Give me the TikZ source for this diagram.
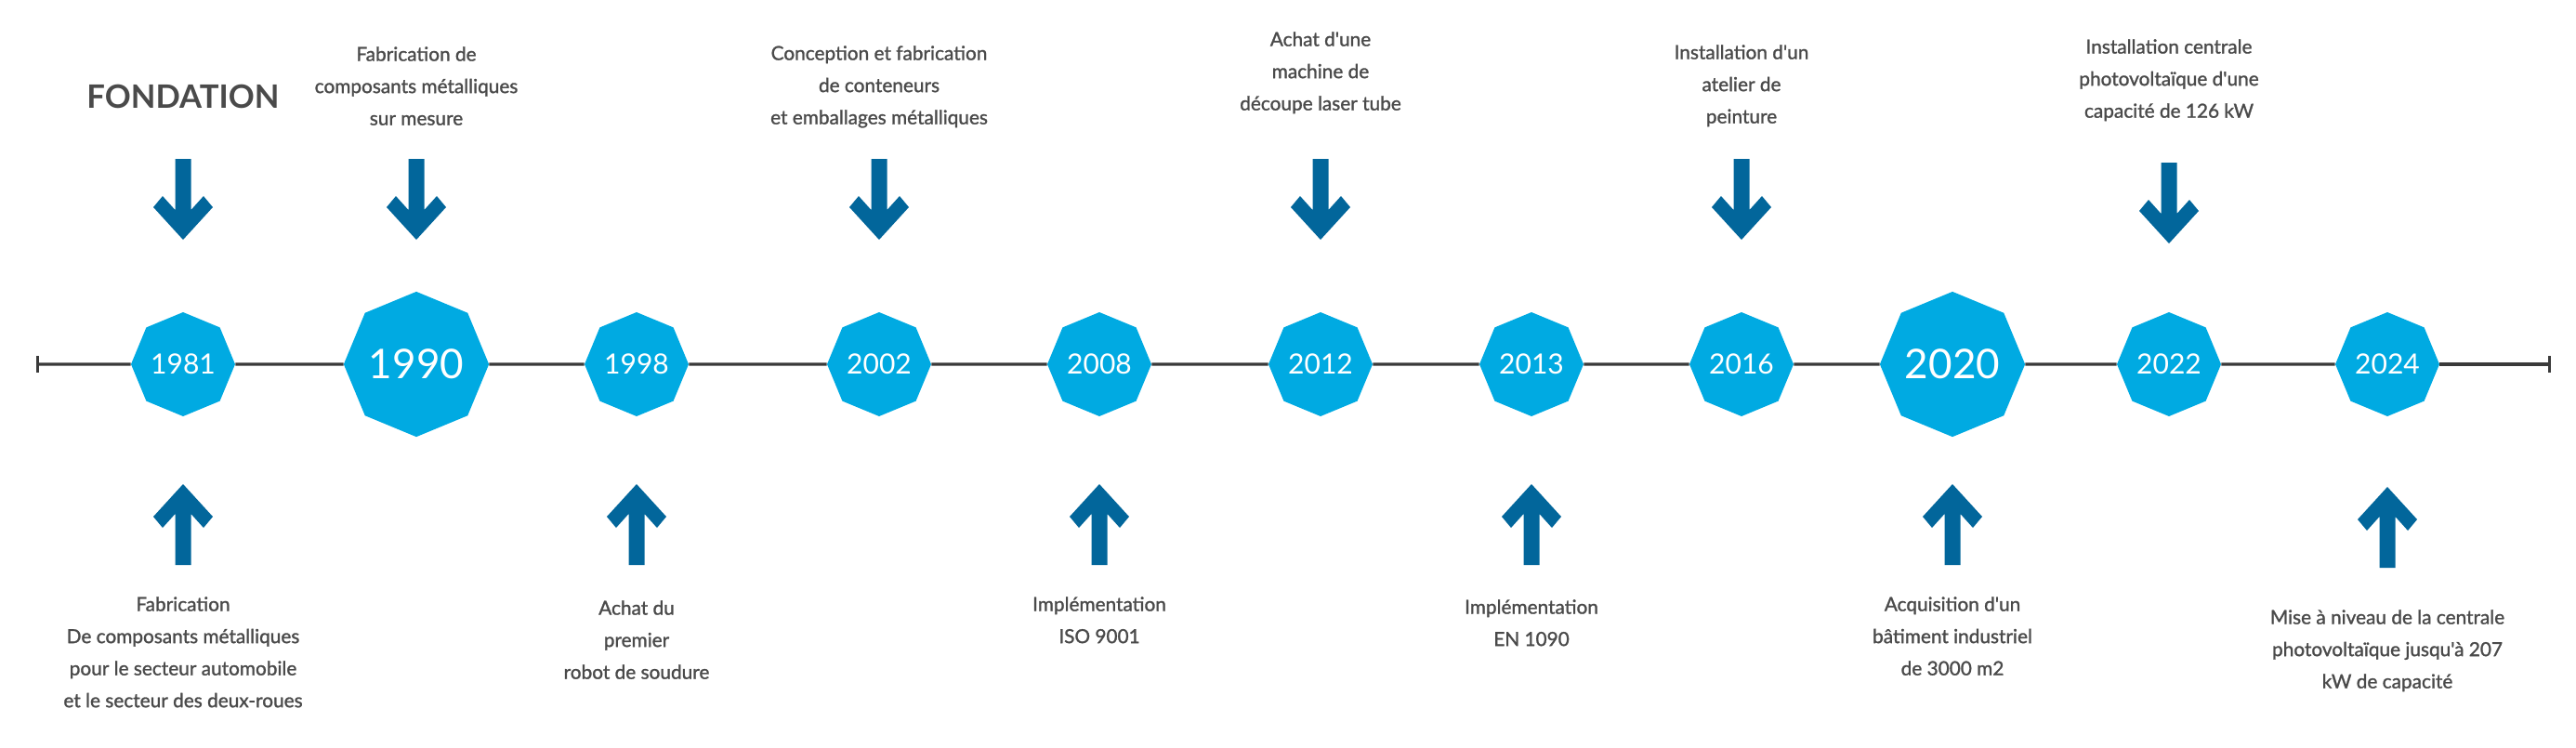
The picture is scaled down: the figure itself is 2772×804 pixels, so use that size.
\documentclass[tikz,border=0pt]{standalone}
\usepackage{fontspec}
\setmainfont{Lato}[Ligatures=TeXOff]
\newfontfamily\descfont{Lato}[Ligatures=TeXOff,FakeBold=1.3]
\usetikzlibrary{shapes.geometric,arrows.meta}
\definecolor{yearblue}{HTML}{00AAE2}
\definecolor{arrowblue}{HTML}{02669B}
\definecolor{txtgray}{HTML}{4A4A4A}
\definecolor{axisgray}{HTML}{3A3A3A}
\begin{document}
\begin{tikzpicture}[x=0.75pt,y=-0.75pt,
  year/.style={regular polygon, regular polygon sides=8, shape border rotate=22.5,
    fill=yearblue, text=white, inner sep=0pt, minimum size=84pt,
    font=\fontsize{22.5pt}{22.5pt}\selectfont},
  bigyear/.style={year, minimum size=117pt, font=\fontsize{33pt}{33pt}\selectfont},
  axisline/.style={draw=axisgray, line width=2.6pt},
  desc/.style={text=txtgray, align=center, inner sep=0pt, anchor=north,
    font=\descfont\fontsize{15.6pt}{25.9pt}\selectfont},
  arrowdown/.pic={\fill[arrowblue] (-8.5,-87) -- (8.5,-87) -- (8.5,-32) -- (22,-47)
    -- (32,-35) -- (0,0) -- (-32,-35) -- (-22,-47) -- (-8.5,-32) -- cycle;},
  arrowup/.pic={\fill[arrowblue] (-8.5,87) -- (8.5,87) -- (8.5,32) -- (22,47)
    -- (32,35) -- (0,0) -- (-32,35) -- (-22,47) -- (-8.5,32) -- cycle;}]
\fill[white] (0,0) rectangle (2772,804);
\useasboundingbox (0,0) rectangle (2772,804);

% year nodes
\node[year] (y1981) at (197,392) {1981};
\node[bigyear] (y1990) at (448,392) {1990};
\node[year] (y1998) at (685,392) {1998};
\node[year] (y2002) at (946,392) {2002};
\node[year] (y2008) at (1183,392) {2008};
\node[year] (y2012) at (1421,392) {2012};
\node[year] (y2013) at (1648,392) {2013};
\node[year] (y2016) at (1874,392) {2016};
\node[bigyear] (y2020) at (2101,392) {2020};
\node[year] (y2022) at (2334,392) {2022};
\node[year] (y2024) at (2569,392) {2024};

% timeline
\coordinate (tl) at (39,392);
\coordinate (tr) at (2745,392);
\draw[axisline,{Bar[width=13pt]}-] (tl) -- (y1981);
\draw[axisline] (y1981) -- (y1990);
\draw[axisline] (y1990) -- (y1998);
\draw[axisline] (y1998) -- (y2002);
\draw[axisline] (y2002) -- (y2008);
\draw[axisline] (y2008) -- (y2012);
\draw[axisline] (y2012) -- (y2013);
\draw[axisline] (y2013) -- (y2016);
\draw[axisline] (y2016) -- (y2020);
\draw[axisline] (y2020) -- (y2022);
\draw[axisline] (y2022) -- (y2024);
\draw[axisline,-{Bar[width=13pt]}] (y2024) -- (tr);

% top arrows
\pic at (y1981 |- 0,258) {arrowdown};
\pic at (y1990 |- 0,258) {arrowdown};
\pic at (y2002 |- 0,258) {arrowdown};
\pic at (y2012 |- 0,258) {arrowdown};
\pic at (y2016 |- 0,258) {arrowdown};
\pic at (y2022 |- 0,262) {arrowdown};

% bottom arrows
\pic at (y1981 |- 0,521) {arrowup};
\pic at (y1998 |- 0,521) {arrowup};
\pic at (y2008 |- 0,521) {arrowup};
\pic at (y2013 |- 0,521) {arrowup};
\pic at (y2020 |- 0,521) {arrowup};
\pic at (y2024 |- 0,524) {arrowup};

% top texts
\node[text=txtgray, inner sep=0pt, font=\fontsize{26pt}{26pt}\selectfont\bfseries] (fond) at (y1981 |- 0,104) {FONDATION};
\node[desc] (t1990) at (y1990 |- 0,50) {Fabrication de\\composants métalliques\\sur mesure};
\node[desc] (t2002) at (y2002 |- 0,49) {Conception et fabrication\\de conteneurs\\et emballages métalliques};
\node[desc] (t2012) at (y2012 |- 0,34) {Achat d'une\\machine de\\découpe laser tube};
\node[desc] (t2016) at (y2016 |- 0,48) {Installation d'un\\atelier de\\peinture};
\node[desc] (t2022) at (y2022 |- 0,42) {Installation centrale\\photovoltaïque d'une\\capacité de 126 kW};

% bottom texts
\node[desc] (b1981) at (y1981 |- 0,642) {Fabrication\\De composants métalliques\\pour le secteur automobile\\et le secteur des deux-roues};
\node[desc] (b1998) at (y1998 |- 0,646) {Achat du\\premier\\robot de soudure};
\node[desc] (b2008) at (y2008 |- 0,642) {Implémentation\\ISO 9001};
\node[desc] (b2013) at (y2013 |- 0,645) {Implémentation\\EN 1090};
\node[desc] (b2020) at (y2020 |- 0,642) {Acquisition d'un\\bâtiment industriel\\de 3000 m2};
\node[desc] (b2024) at (y2024 |- 0,656) {Mise à niveau de la centrale\\photovoltaïque jusqu'à 207\\kW de capacité};
\end{tikzpicture}
\end{document}
